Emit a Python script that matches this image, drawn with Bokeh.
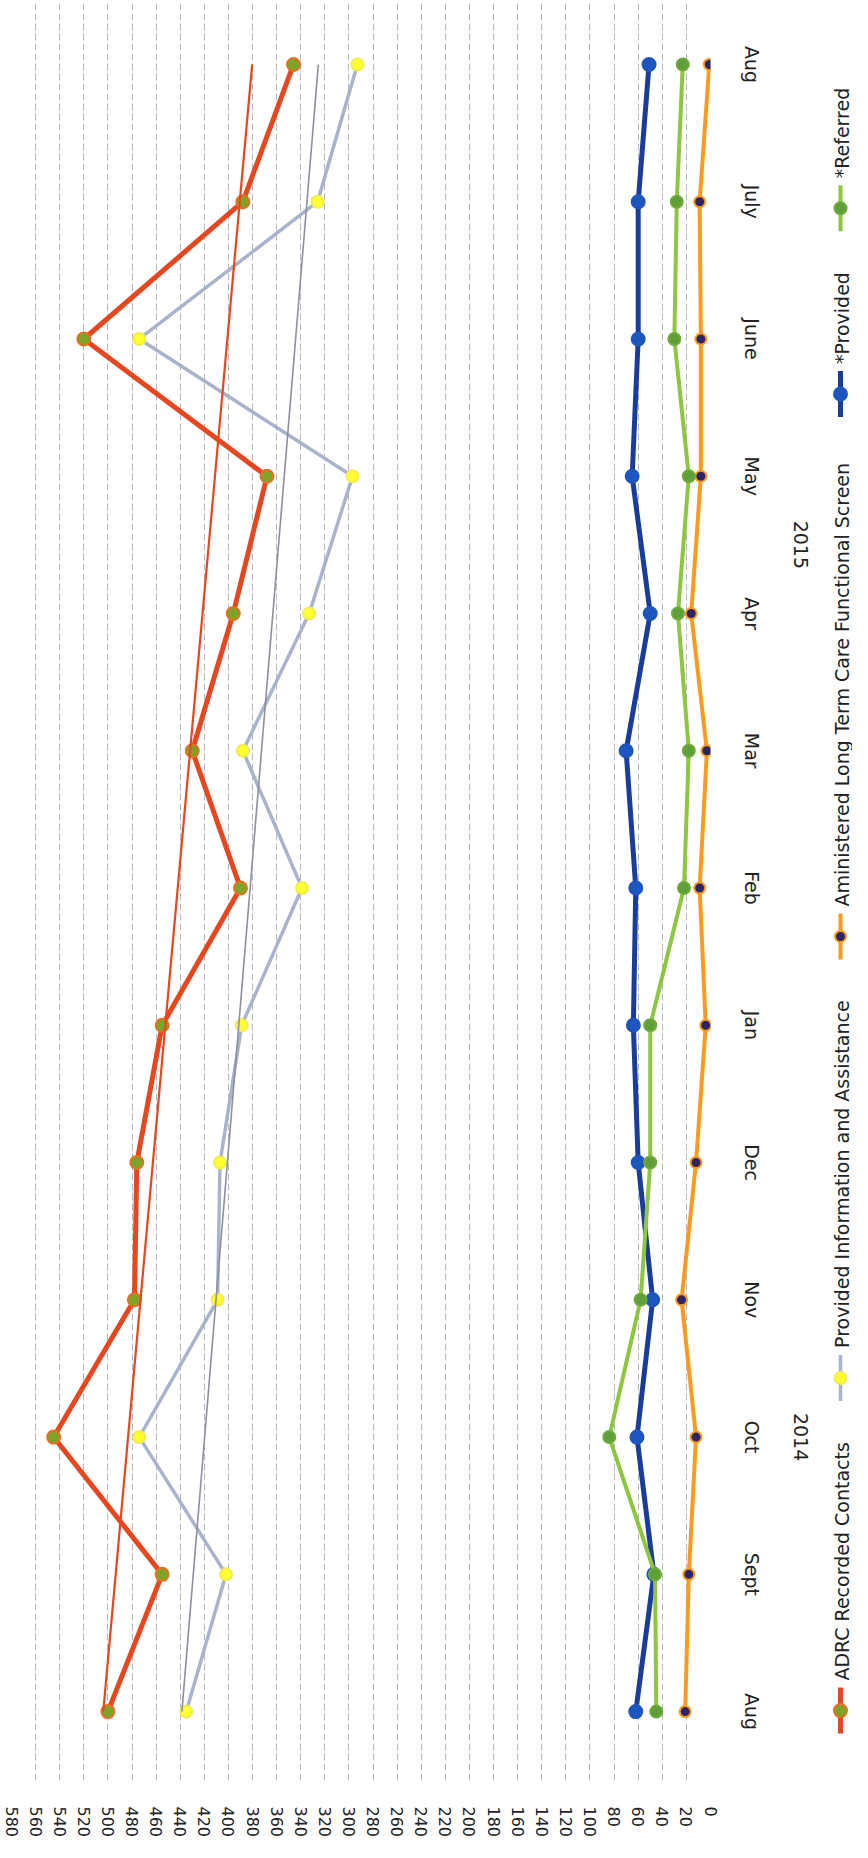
import numpy as np
from math import pi
from bokeh.plotting import figure
from bokeh.layouts import row
from bokeh.models import Range1d, FixedTicker, LinearAxis
from bokeh.core.properties import value
from bokeh.embed import file_html
from bokeh.resources import INLINE

# ---------------- data ----------------
months = ["Aug", "Sept", "Oct", "Nov", "Dec", "Jan", "Feb", "Mar", "Apr", "May", "June", "July", "Aug"]
years = ["2014", "2015"]
year_first_month = [0, 5]
year_last_month = [4, 12]
value_ticks = list(range(0, 600, 20))

adrc_contacts = [500, 455, 545, 478, 476, 455, 390, 430, 396, 368, 520, 388, 346]
info_assist = [435, 402, 474, 409, 407, 389, 339, 388, 333, 297, 474, 326, 293]
ltc_screen = [21, 18, 12, 24, 12, 4, 9, 3, 16, 8, 8, 9, 1]
star_provided = [62, 47, 61, 48, 60, 64, 62, 70, 50, 65, 60, 60, 51]
star_referred = [45, 46, 84, 58, 50, 50, 22, 18, 27, 18, 30, 28, 23]

legend_labels = ["ADRC Recorded Contacts", "Provided Information and Assistance",
                 "Aministered Long Term Care Functional Screen", "*Provided", "*Referred"]

FONT = "DejaVu Sans"
idx = np.arange(len(months))

# ---------------- styles ----------------
styles = [
    dict(line="#E8461E", lw=5, fill="#7BA428", mline="#E8701E", size=13),   # ADRC
    dict(line="#A9B3CB", lw=3.5, fill="#FFFF30", mline="#F2EC50", size=12),  # info
    dict(line="#FF9A1E", lw=4, fill="#2B2468", mline="#FF9A1E", size=11),   # LTC
    dict(line="#193C9E", lw=5, fill="#1E56C0", mline="#1E56C0", size=13),   # provided
    dict(line="#8DC63F", lw=4, fill="#5E9F37", mline="#6DAA3A", size=12),   # referred
]
series = [adrc_contacts, info_assist, ltc_screen, star_provided, star_referred]

# ---------------- main figure ----------------
p = figure(width=822, height=1840, output_backend="svg", toolbar_location=None,
           x_range=Range1d(580, 0), y_range=Range1d(-0.502, 12.466),
           min_border_left=11, min_border_right=112, min_border_top=0, min_border_bottom=58,
           x_axis_location="below", y_axis_location=None)
p.outline_line_color = None
p.background_fill_color = "white"
p.border_fill_color = "white"

p.ygrid.visible = False
p.xgrid.ticker = FixedTicker(ticks=[t for t in value_ticks if t > 0])
p.xgrid.grid_line_color = "#B5B8BD"
p.xgrid.grid_line_dash = "7 3"
p.xgrid.grid_line_width = 1

xa = p.xaxis[0]
xa.ticker = FixedTicker(ticks=value_ticks)
xa.major_label_orientation = "vertical"
xa.axis_line_color = None
xa.major_tick_out = 0
xa.major_tick_in = 0
xa.minor_tick_out = 0
xa.minor_tick_in = 0
xa.major_label_standoff = 26
xa.major_label_text_font = FONT
xa.major_label_text_font_size = "16px"
xa.major_label_text_color = "#222222"

# month axis (right)
ma = LinearAxis(ticker=FixedTicker(ticks=list(idx)),
                major_label_overrides={int(i): m for i, m in zip(idx, months)})
ma.major_label_orientation = "vertical"
ma.axis_line_color = None
ma.major_tick_out = 0
ma.major_tick_in = 0
ma.minor_tick_out = 0
ma.minor_tick_in = 0
ma.major_label_standoff = 30
ma.major_label_text_font = FONT
ma.major_label_text_font_size = "19px"
ma.major_label_text_color = "#222222"
p.add_layout(ma, "right")

# year axis (right, outer)
year_pos = [(a + b) / 2 for a, b in zip(year_first_month, year_last_month)]
ya = LinearAxis(ticker=FixedTicker(ticks=year_pos),
                major_label_overrides={yp: y for yp, y in zip(year_pos, years)})
ya.major_label_orientation = "vertical"
ya.axis_line_color = None
ya.major_tick_out = 0
ya.major_tick_in = 0
ya.minor_tick_out = 0
ya.minor_tick_in = 0
ya.major_label_standoff = 28
ya.major_label_text_font = FONT
ya.major_label_text_font_size = "19px"
ya.major_label_text_color = "#222222"
p.add_layout(ya, "right")

for vals, st in zip(series, styles):
    p.line(vals, idx, line_color=st["line"], line_width=st["lw"], line_join="round")
    p.scatter(vals, idx, marker="circle", size=st["size"], fill_color=st["fill"],
              line_color=st["mline"], line_width=2)

# linear trendlines (least squares fit as in the spreadsheet)
for vals, col, lw in [(adrc_contacts, "#E8461E", 2.2), (info_assist, "#8C919B", 1.6)]:
    k, b = np.polyfit(idx, vals, 1)
    ends = np.array([idx[0], idx[-1]])
    p.line(k * ends + b, ends, line_color=col, line_width=lw)

# ---------------- legend figure (rotated text) ----------------
lg = figure(width=30, height=1840, output_backend="svg", toolbar_location=None,
            x_range=Range1d(830, 860), y_range=Range1d(1790, 8),
            min_border_left=0, min_border_right=0, min_border_top=0, min_border_bottom=58,
            x_axis_location=None, y_axis_location=None)
lg.outline_line_color = None
lg.grid.visible = False
legend_marker_y = [1720, 1387, 945, 402, 216]
LX = 848
for lab, my, st in zip(legend_labels, legend_marker_y, styles):
    lg.segment(x0=[LX], y0=[my + 23], x1=[LX], y1=[my - 23], line_color=st["line"],
               line_width=st["lw"])
    lg.scatter([LX], [my], marker="circle", size=st["size"], fill_color=st["fill"],
               line_color=st["mline"], line_width=2)
    lg.text(x=[LX + 1], y=[my - 30], text=[lab], angle=pi / 2, text_align="left",
            text_baseline="middle", text_font=value(FONT), text_font_size="19px",
            text_color="#222222")

layout = row(p, lg)
open("out.html", "w").write(file_html(layout, INLINE))
